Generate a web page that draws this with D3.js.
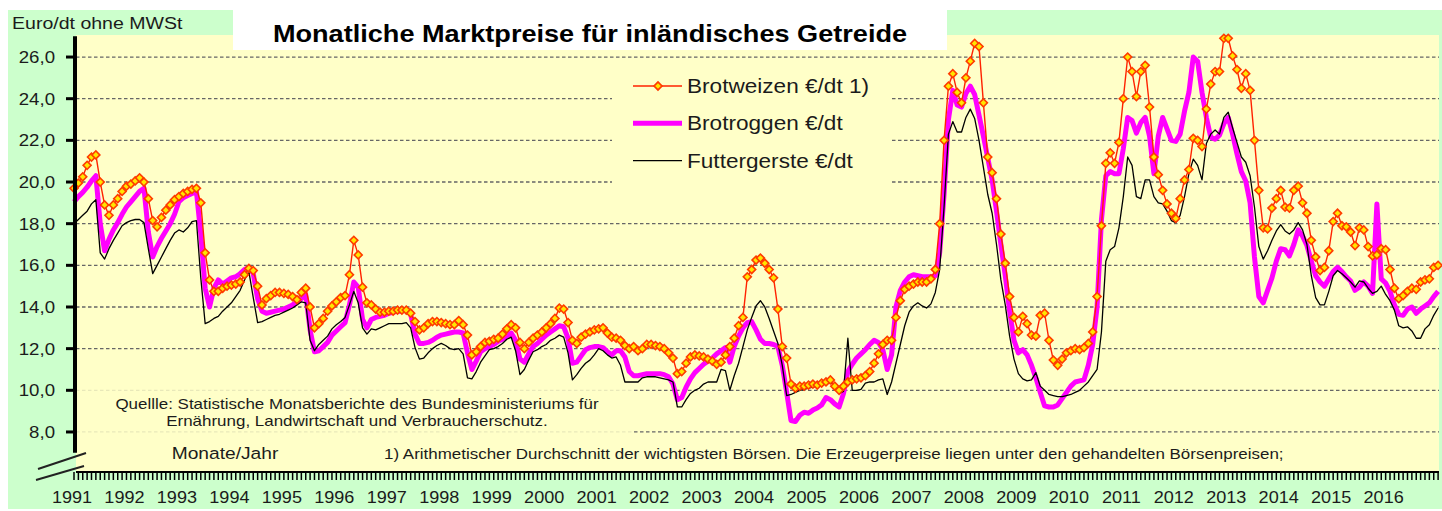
<!DOCTYPE html>
<html><head><meta charset="utf-8">
<script src="https://cdn.jsdelivr.net/npm/d3@7"></script>
<style>
body{margin:0;background:#fff;}
svg{display:block;font-family:"Liberation Sans",Arial,sans-serif;}
</style></head>
<body><svg id="c" width="1442" height="511"></svg>
<script>
// ---------------- DATA ----------------
const startYear = 1991;
const yearLabels = [1991,1992,1993,1994,1995,1996,1997,1998,1999,2000,2001,2002,2003,2004,2005,2006,2007,2008,2009,2010,2011,2012,2013,2014,2015,2016];
const yTicks = [8,10,12,14,16,18,20,22,24,26];
const seriesNames = ["Brotweizen €/dt 1)","Brotroggen €/dt","Futtergerste €/dt"];
const titleText = "Monatliche Marktpreise für inländisches Getreide";
const unitText = "Euro/dt ohne MWSt";
const axisText = "Monate/Jahr";
const sourceLines = ["Quellle: Statistische Monatsberichte des Bundesministeriums für","Ernährung, Landwirtschaft und Verbraucherschutz."];
const footnote = "1) Arithmetischer Durchschnitt der wichtigsten Börsen. Die Erzeugerpreise liegen unter den gehandelten Börsenpreisen;";

// monthly values, Jan 1991 ... Jan 2017
const brotweizen = [
19.7,19.95,20.25,20.8,21.2,21.3,20.0,18.9,18.4,18.9,19.2,19.55,
19.8,19.9,20.05,20.2,20.0,19.2,18.15,17.85,18.3,18.65,18.9,19.15,
19.3,19.45,19.55,19.65,19.7,19.0,16.6,15.3,14.75,14.75,14.9,15.0,
15.05,15.1,15.2,15.55,15.85,15.75,15.0,14.1,14.4,14.55,14.7,14.7,
14.65,14.6,14.5,14.35,14.7,14.9,14.0,13.0,13.2,13.45,13.8,14.05,
14.25,14.45,14.55,15.55,17.2,16.5,14.95,14.2,14.1,13.9,13.75,13.75,
13.8,13.8,13.85,13.85,13.85,13.7,13.3,12.9,13.0,13.2,13.3,13.3,
13.25,13.2,13.15,13.15,13.35,13.15,12.65,11.7,11.85,12.1,12.3,12.35,
12.45,12.5,12.7,12.95,13.15,13.0,12.3,12.0,12.3,12.5,12.65,12.8,
13.0,13.2,13.45,13.95,13.9,13.25,12.4,12.25,12.55,12.7,12.8,12.9,
12.95,13.0,12.75,12.55,12.5,12.4,12.15,12.0,12.1,11.9,12.0,12.2,
12.2,12.15,12.1,12.0,11.8,11.55,10.8,10.9,11.3,11.6,11.7,11.65,
11.6,11.5,11.4,11.25,11.35,11.7,12.1,12.5,13.1,13.5,15.45,15.8,
16.25,16.35,16.1,15.8,15.4,13.9,12.1,11.55,10.3,10.1,10.2,10.2,
10.25,10.3,10.25,10.35,10.4,10.5,10.2,10.0,10.2,10.4,10.5,10.55,
10.6,10.7,10.9,11.3,11.75,12.2,12.4,12.4,13.5,14.3,14.85,15.0,
15.1,15.2,15.2,15.2,15.35,15.8,18.0,22.0,24.6,25.2,24.3,23.8,
25.0,25.8,26.65,26.5,23.8,21.2,20.45,19.2,17.5,16.1,14.5,13.5,
12.8,13.55,13.2,12.65,12.6,13.6,13.7,12.4,11.45,11.2,11.5,11.8,
11.9,12.0,11.95,12.05,12.25,12.8,14.5,17.9,20.9,21.4,20.9,21.9,
24.0,26.0,25.3,24.1,25.3,25.6,23.6,21.2,20.35,19.6,18.95,18.5,
18.25,19.2,20.1,20.6,22.1,22.0,21.7,23.5,24.7,25.3,25.3,26.9,
26.9,26.05,25.4,24.5,25.2,24.4,22.0,19.6,17.8,17.75,18.75,19.2,
19.6,18.8,18.75,19.6,19.8,19.0,18.5,17.2,16.4,15.75,15.9,16.7,
18.1,18.5,17.9,17.85,17.6,16.95,17.8,17.7,16.9,16.45,16.5,16.8,
16.75,15.8,14.9,14.4,14.55,14.75,14.9,14.85,15.2,15.3,15.35,15.9,
16.0];

const brotroggen = [
19.05,19.3,19.5,19.75,20.05,20.3,18.0,16.7,17.25,17.7,18.05,18.45,
18.8,19.05,19.3,19.55,19.7,17.6,16.4,16.9,17.3,17.65,18.0,18.45,
19.05,19.25,19.35,19.45,19.55,17.5,14.9,14.0,14.9,15.3,15.1,15.25,
15.4,15.45,15.6,15.8,15.9,15.6,14.4,13.8,13.7,13.75,13.8,13.85,
13.9,14.0,14.1,14.25,14.4,14.6,12.9,11.85,11.9,12.1,12.3,12.65,
12.85,13.05,13.25,14.1,15.2,14.95,13.4,13.0,13.4,13.5,13.55,13.6,
13.7,13.75,13.8,13.8,13.85,13.65,12.7,12.25,12.25,12.3,12.4,12.55,
12.65,12.7,12.75,12.8,12.8,12.75,11.8,11.0,11.4,11.85,12.0,12.1,
12.2,12.35,12.45,12.6,12.75,12.4,11.5,11.35,11.75,12.1,12.25,12.45,
12.65,12.8,12.95,13.1,13.05,12.5,11.3,11.35,11.65,11.95,12.05,12.1,
12.1,12.05,11.85,11.7,11.9,11.9,11.6,10.9,10.7,10.7,10.75,10.8,
10.8,10.8,10.8,10.75,10.65,10.3,9.55,9.65,10.15,10.55,10.85,11.05,
11.25,11.4,11.55,11.75,11.9,12.05,11.35,12.1,12.6,13.0,13.25,13.3,
12.9,12.45,12.25,12.25,12.2,12.1,11.2,9.9,8.55,8.5,8.8,8.95,
8.9,9.05,9.15,9.3,9.65,9.55,9.35,9.2,9.85,10.9,11.25,11.55,
11.75,11.95,12.2,12.4,12.3,11.95,11.0,11.7,14.0,14.8,15.2,15.45,
15.55,15.5,15.45,15.45,15.45,15.5,16.6,19.4,23.0,24.4,23.7,23.6,
24.25,24.6,24.2,23.2,22.2,21.15,20.1,18.6,17.0,15.5,13.8,12.4,
11.8,11.95,11.7,11.2,10.6,9.9,9.25,9.2,9.2,9.3,9.6,9.9,
10.2,10.4,10.45,10.5,11.2,12.2,14.0,18.2,20.3,20.5,20.4,20.4,
21.6,23.1,22.95,22.35,22.85,23.1,22.2,20.4,22.2,23.1,22.55,22.0,
21.95,22.3,23.4,24.3,26.0,25.8,24.3,23.1,22.15,22.05,22.25,22.8,
23.1,22.3,21.35,20.5,20.05,19.0,16.4,14.5,14.2,14.8,15.4,16.2,
16.8,16.75,16.45,17.0,17.7,17.4,16.95,16.2,15.5,15.2,15.0,15.35,
15.7,15.9,15.7,15.45,15.25,14.8,14.95,15.2,15.0,14.65,18.95,15.35,
15.15,14.75,14.1,13.65,13.6,13.9,14.0,13.7,13.9,14.05,14.2,14.5,
14.75];

const futtergerste = [
18.0,18.2,18.4,18.6,18.95,19.15,16.6,16.3,16.8,17.2,17.55,17.9,
18.05,18.15,18.2,18.2,18.05,16.8,15.6,16.0,16.4,16.8,17.2,17.55,
17.7,17.6,17.8,18.1,18.15,15.4,13.2,13.3,13.45,13.55,13.8,14.0,
14.2,14.5,14.8,15.3,15.7,14.45,13.25,13.3,13.4,13.5,13.6,13.65,
13.75,13.85,13.95,14.1,14.25,14.2,12.4,11.9,12.2,12.4,12.6,12.95,
13.15,13.3,13.5,14.1,14.75,14.2,13.0,12.7,12.95,12.9,13.0,13.1,
13.2,13.2,13.2,13.2,13.25,13.0,12.05,11.5,11.55,11.8,12.0,12.15,
12.25,12.15,12.0,11.95,12.0,11.75,10.6,10.55,10.9,11.35,11.65,11.95,
12.0,12.1,12.25,12.45,12.55,11.9,10.75,11.0,11.45,11.85,11.95,12.1,
12.2,12.4,12.5,12.65,12.55,11.8,10.5,10.75,11.05,11.3,11.45,11.7,
12.0,11.9,11.7,11.55,11.6,11.2,10.4,10.4,10.4,10.4,10.6,10.65,
10.65,10.65,10.6,10.55,10.5,10.4,9.2,9.2,9.55,9.85,10.0,10.1,
10.3,10.4,10.4,10.4,11.0,10.95,10.0,10.7,11.3,12.1,12.9,13.5,
14.05,14.3,14.0,13.45,12.85,12.25,11.2,9.75,9.8,9.9,10.0,10.05,
10.1,10.15,10.2,10.25,10.35,10.4,10.2,9.85,9.95,12.5,10.0,10.0,
10.05,10.35,10.4,10.4,10.5,10.55,9.8,10.4,11.3,12.2,13.1,13.75,
14.05,14.2,14.05,13.95,14.15,14.7,15.8,18.8,22.3,22.9,22.4,22.4,
23.1,23.5,23.05,22.0,20.7,19.4,18.5,17.0,15.3,14.1,12.6,11.5,
10.8,10.55,10.45,10.5,10.85,10.2,10.0,9.8,9.75,9.7,9.7,9.75,
9.8,9.9,10.0,10.2,10.4,10.7,11.0,12.8,16.2,16.75,16.9,17.8,
19.3,21.2,20.8,19.3,19.2,20.1,20.1,19.3,19.0,18.95,18.6,18.15,
18.05,18.4,19.3,20.4,21.1,20.8,20.1,21.85,22.3,22.5,22.3,23.1,
23.35,22.6,21.9,21.2,20.95,20.3,18.8,16.9,16.3,16.7,17.2,17.65,
17.95,17.65,17.5,17.7,18.05,17.7,17.0,15.5,14.45,14.1,14.1,14.75,
15.5,15.75,15.6,15.4,15.2,14.95,15.25,15.2,14.9,14.65,14.75,15.0,
14.6,14.3,13.85,13.1,13.0,13.05,12.85,12.5,12.5,12.95,13.15,13.6,
13.95];

// ---------------- DRAW ----------------
const svg = d3.select("#c");
const SX = 1.13;               // horizontal text stretch seen in the reference
const txtCol = "#1b1b1b";
const plot = {left:76, right:1439, top:35, bottom:472};

const x = d3.scaleLinear().domain([0, brotweizen.length-1]).range([74, 1438.1]);
const y = d3.scaleLinear().domain([7, 27]).range([452.8, 36.2]);

function addText(px, py, str, size, anchor, weight, col){
  const g = svg.append("g").attr("transform", `translate(${px},${py})`);
  g.append("text").attr("transform", `scale(${SX},1)`)
    .attr("text-anchor", anchor || "start")
    .attr("font-size", size).attr("font-weight", weight || "normal")
    .attr("fill", col || txtCol).text(str);
}

// backgrounds
svg.append("rect").attr("x",8).attr("y",10).attr("width",1434).attr("height",499).attr("fill","#CCFFCC");
svg.append("rect").attr("x",plot.left).attr("y",plot.top).attr("width",plot.right-plot.left).attr("height",plot.bottom-plot.top).attr("fill","#FFFFC8");

// gridlines
svg.append("g").selectAll("line").data(yTicks).join("line")
  .attr("x1",plot.left).attr("x2",plot.right)
  .attr("y1",d=>y(d)).attr("y2",d=>y(d))
  .attr("stroke","#666").attr("stroke-width",1.3).attr("stroke-dasharray","3.5,2.5");

// boxes covering grid (legend & source)
svg.append("rect").attr("x",612).attr("y",64).attr("width",278).attr("height",130).attr("fill","#FFFFC8");
svg.append("rect").attr("x",plot.left).attr("y",383).attr("width",556).attr("height",58).attr("fill","#FFFFC8").attr("opacity",0.85);

// series
const line = d3.line().x((d,i)=>x(i)).y(d=>y(d));
svg.append("path").datum(brotroggen).attr("d",line).attr("fill","none")
  .attr("stroke","#FF00FF").attr("stroke-width",5).attr("stroke-linejoin","round");
svg.append("path").datum(futtergerste).attr("d",line).attr("fill","none")
  .attr("stroke","#000").attr("stroke-width",1.3).attr("stroke-linejoin","round");
svg.append("path").datum(brotweizen).attr("d",line).attr("fill","none")
  .attr("stroke","#FF2200").attr("stroke-width",1.4).attr("stroke-linejoin","round");
const diamond = d3.symbol(d3.symbolSquare, 32)();
svg.append("g").selectAll("path").data(brotweizen).join("path")
  .attr("d",diamond)
  .attr("transform",(d,i)=>`translate(${x(i)},${y(d)}) rotate(45)`)
  .attr("fill","#FFE600").attr("stroke","#FF3c00").attr("stroke-width",1.6);

// y axis
svg.append("line").attr("x1",75).attr("x2",75).attr("y1",y(27)).attr("y2",y(7))
  .attr("stroke","#000").attr("stroke-width",4);
svg.append("g").selectAll("line").data(yTicks).join("line")
  .attr("x1",66).attr("x2",75).attr("y1",d=>y(d)).attr("y2",d=>y(d))
  .attr("stroke","#000").attr("stroke-width",3);
yTicks.forEach(t=>addText(55, y(t)+6, t.toFixed(1).replace(".",","), 16.5, "end"));

// axis break symbol
svg.append("line").attr("x1",38).attr("y1",469).attr("x2",86).attr("y2",453).attr("stroke","#222").attr("stroke-width",2);
svg.append("line").attr("x1",36).attr("y1",480).attr("x2",84).attr("y2",466).attr("stroke","#222").attr("stroke-width",2);

// x axis with monthly ticks
svg.append("line").attr("x1",plot.left).attr("x2",plot.right).attr("y1",472).attr("y2",472)
  .attr("stroke","#000").attr("stroke-width",2.2);
svg.append("g").selectAll("line").data(d3.range(brotweizen.length)).join("line")
  .attr("x1",d=>x(d)).attr("x2",d=>x(d)).attr("y1",472).attr("y2",480)
  .attr("stroke","#000").attr("stroke-width",1.5);
yearLabels.forEach(yr=>addText(x((yr-startYear)*12)-2, 503, String(yr), 16, "middle"));

// title
svg.append("rect").attr("x",233).attr("y",10).attr("width",714).attr("height",40).attr("fill","#fff");
addText(590, 42, titleText, 24, "middle", "bold", "#000");
addText(12, 29, unitText, 17.3, "start");

// legend
const legY = [86, 123.3, 160.7];
svg.append("line").attr("x1",633).attr("x2",682).attr("y1",legY[0]).attr("y2",legY[0]).attr("stroke","#FF2200").attr("stroke-width",1.6);
svg.append("path").attr("d",diamond).attr("transform",`translate(658,${legY[0]}) rotate(45)`)
  .attr("fill","#FFE600").attr("stroke","#FF3c00").attr("stroke-width",1.6);
svg.append("line").attr("x1",633).attr("x2",682).attr("y1",legY[1]).attr("y2",legY[1]).attr("stroke","#FF00FF").attr("stroke-width",5);
svg.append("line").attr("x1",633).attr("x2",682).attr("y1",legY[2]).attr("y2",legY[2]).attr("stroke","#000").attr("stroke-width",1.3);
seriesNames.forEach((n,i)=>addText(687, legY[i]+7, n, 20, "start"));

// notes
addText(357, 409, sourceLines[0], 15, "middle");
addText(357, 425.5, sourceLines[1], 15, "middle");
addText(225, 459, axisText, 17, "middle");
addText(384, 459, footnote, 15, "start");
</script>
</body></html>
